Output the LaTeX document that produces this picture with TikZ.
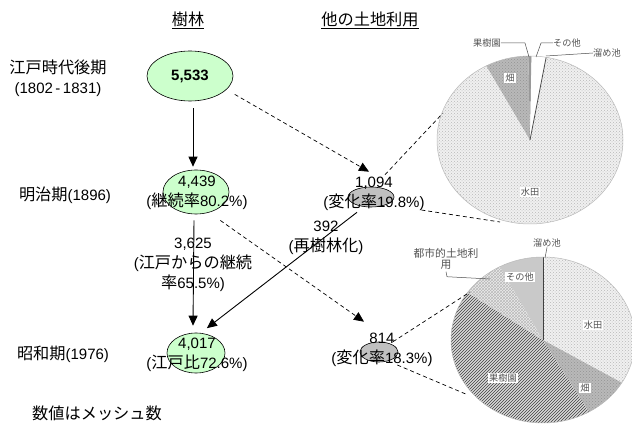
\documentclass[tikz,border=0pt]{standalone}
\usepackage{fontspec}
\setmainfont{Liberation Sans}
\newfontfamily\jp{Noto Sans CJK JP}[Scale=1.08]
\usetikzlibrary{patterns,arrows.meta,shapes.geometric}
\definecolor{ellgreen}{HTML}{CCFFCC}
\definecolor{ellgrey}{HTML}{C0C0C0}
\begin{document}
\begin{tikzpicture}[x=1pt,y=1pt,
  every node/.style={font=\fontsize{15}{20}\selectfont, inner sep=0pt, align=center},
  greenell/.style={ellipse, draw=black, fill=ellgreen, line width=0.6pt, inner sep=0pt},
  greyell/.style={ellipse, draw=black, fill=ellgrey, line width=0.6pt, inner sep=0pt},
  solidarr/.style={draw=black, line width=0.9pt, -{Triangle[length=10pt,width=9pt]}},
  dasharr/.style={draw=black, line width=0.7pt, dash pattern=on 4pt off 3pt, -{Triangle[length=10pt,width=9pt]}},
  dashln/.style={draw=black, line width=0.7pt, dash pattern=on 4pt off 3pt},
  pielab/.style={font=\fontsize{8.5}{10}\selectfont\jp, text=gray!65!black},
  boxlab/.style={font=\fontsize{8.5}{10}\selectfont\jp, text=gray!65!black, fill=white, inner sep=1.2pt},
  leader/.style={draw=gray!60!black, line width=0.5pt},
  pieedge/.style={draw=gray!55, line width=0.5pt},
  paddy/.style={preaction={fill=gray!12}, pattern=crosshatch dots, pattern color=gray!55},
  field/.style={preaction={fill=gray!55}, pattern=crosshatch dots, pattern color=gray!85},
  orchard/.style={preaction={fill=gray!30}, pattern=north east lines, pattern color=black!75},
  urban/.style={preaction={fill=gray!15}, pattern=crosshatch, pattern color=gray!55},
  otherb/.style={fill=gray!42}
]
\useasboundingbox (0,0) rectangle (632,-430);

% ---------- pie charts ----------
\begin{scope}
\clip (0,0) rectangle (632,-430);
% top pie
\path[paddy] (530,-140) -- ++(80:93pt and 84pt) arc[start angle=80, end angle=-242, x radius=93pt, y radius=84pt] -- cycle;
\path[field] (530,-140) -- ++(91:93pt and 84pt) arc[start angle=91, end angle=118, x radius=93pt, y radius=84pt] -- cycle;
\path[fill=gray!80] (530,-140) -- ++(89:93pt and 84pt) arc[start angle=89, end angle=91, x radius=93pt, y radius=84pt] -- cycle;
\path[fill=white] (530,-140) -- ++(80:93pt and 84pt) arc[start angle=80, end angle=89, x radius=93pt, y radius=84pt] -- cycle;
\draw[gray!60!black, line width=0.8pt] (530,-140) -- ++(80:93pt and 84pt);
\draw[pieedge] (530,-140) ellipse[x radius=93pt, y radius=84pt];
% bottom pie
\path[paddy] (543,-340) -- ++(-31:92pt and 83pt) arc[start angle=-31, end angle=89, x radius=92pt, y radius=83pt] -- cycle;
\path[field] (543,-340) -- ++(-60:92pt and 83pt) arc[start angle=-60, end angle=-31, x radius=92pt, y radius=83pt] -- cycle;
\path[orchard] (543,-340) -- ++(145:92pt and 83pt) arc[start angle=145, end angle=300, x radius=92pt, y radius=83pt] -- cycle;
\path[urban] (543,-340) -- ++(118:92pt and 83pt) arc[start angle=118, end angle=145, x radius=92pt, y radius=83pt] -- cycle;
\path[otherb] (543,-340) -- ++(90:92pt and 83pt) arc[start angle=90, end angle=118, x radius=92pt, y radius=83pt] -- cycle;
\draw[gray!50!black, line width=1pt] (543,-340) -- ++(90:92pt and 83pt);
\draw[pieedge] (543,-340) ellipse[x radius=92pt, y radius=83pt];
\end{scope}

% pie labels (top)
\node[pielab] (p1a) at (487,-43) {果樹園};
\node[pielab] (p1b) at (567,-43) {その他};
\node[pielab] (p1c) at (607,-53) {溜め池};
\coordinate (q1a) at (529,-57);
\coordinate (q1b) at (536,-57);
\coordinate (q1c) at (546,-56);
\draw[leader] (p1a.east) -- ++(24,0) -- (q1a);
\draw[leader] (p1b.west) -- ++(-12,0) -- (q1b);
\draw[leader] (p1c.west) -- (q1c);
\node[boxlab] (p1d) at (510,-78) {畑};
\node[boxlab] (p1e) at (530,-192) {水田};
% pie labels (bottom)
\node[pielab, font=\fontsize{10}{11}\selectfont\jp] (p2a) at (446,-259) {都市的土地利\\用};
\node[pielab] (p2b) at (547,-243) {溜め池};
\coordinate (q2a) at (490,-279);
\coordinate (q2b) at (545,-258);
\draw[leader] ([yshift=-2pt]p2a.south) -- ++(1,-5) -- (q2a);
\draw[leader] (p2b.south) -- (q2b);
\node[boxlab] (p2c) at (520,-277) {その他};
\node[boxlab] (p2d) at (593,-325) {水田};
\node[boxlab] (p2e) at (585,-388) {畑};
\node[boxlab] (p2f) at (503,-378) {果樹園};

% ---------- headings and row labels ----------
\node (H1) at (188,-20) {\underline{\jp 樹林}};
\node (H2) at (370,-20) {\underline{\jp 他の土地利用}};
\node (L1) at (58,-78) {{\jp 江戸時代後期}\\(1802\,-\,1831)};
\node (L2) at (65,-195) {{\jp 明治期}(1896)};
\node (L3) at (63,-354) {{\jp 昭和期}(1976)};
\node (L4) at (97,-413) {\jp 数値はメッシュ数};

% ---------- ellipses ----------
\node[greenell, minimum width=86pt, minimum height=50pt] (E1) at (190,-76) {\bfseries 5,533};
\node[greenell, minimum width=66pt, minimum height=44pt] (E2) at (196,-192) {};
\node[greenell, minimum width=58pt, minimum height=40pt] (E3) at (196,-353) {};
\node[greyell, minimum width=46pt, minimum height=20pt] (G1) at (371,-197) {};
\node[greyell, minimum width=38pt, minimum height=20pt] (G2) at (379,-352) {};

% ---------- connectors ----------
\coordinate (P1a) at (443,-113);
\coordinate (P1b) at (500,-222);
\coordinate (P2a) at (470,-292);
\coordinate (P2b) at (468,-395);
\draw[solidarr] ([xshift=3pt,yshift=-7pt]E1.south) -- ([xshift=-3pt,yshift=3pt]E2.north);
\draw[solidarr] ([xshift=-2pt,yshift=-6pt]E2.south) -- ([xshift=-3pt,yshift=7pt]E3.north);
\draw[dasharr] ([xshift=8pt,yshift=-5pt]E1.-20) -- ([xshift=-2pt,yshift=15pt]G1.north);
\draw[dasharr] ([xshift=8pt,yshift=-9pt]E2.-50) -- ([xshift=-15pt,yshift=20pt]G2.north);
\draw[solidarr] ([xshift=-14pt,yshift=-5pt]G1.south) -- ([yshift=6pt]E3.60);
\draw[dashln] ([xshift=14pt,yshift=12pt]G1.north) -- (P1a);
\draw[dashln] ([xshift=27pt,yshift=-13pt]G1.east) -- (P1b);
\draw[dashln] ([xshift=14pt]G2.north) -- (P2a);
\draw[dashln] ([xshift=-1pt,yshift=-13pt]G2.east) -- (P2b);

% ---------- value texts ----------
\node (E2t) at (197,-193) {4,439\\({\jp 継続率}80.2\%)};
\node (E3t) at (197,-355) {4,017\\({\jp 江戸比}72.6\%)};
\node (G1t) at (374,-194) {1,094\\({\jp 変化率}19.8\%)};
\node (G2t) at (382,-350) {814\\({\jp 変化率}18.3\%)};
\node (T1) at (193,-265) {3,625\\({\jp 江戸からの継続}\\{\jp 率}65.5\%)};
\node (T2) at (326,-238) {392\\({\jp 再樹林化})};
\end{tikzpicture}
\end{document}
